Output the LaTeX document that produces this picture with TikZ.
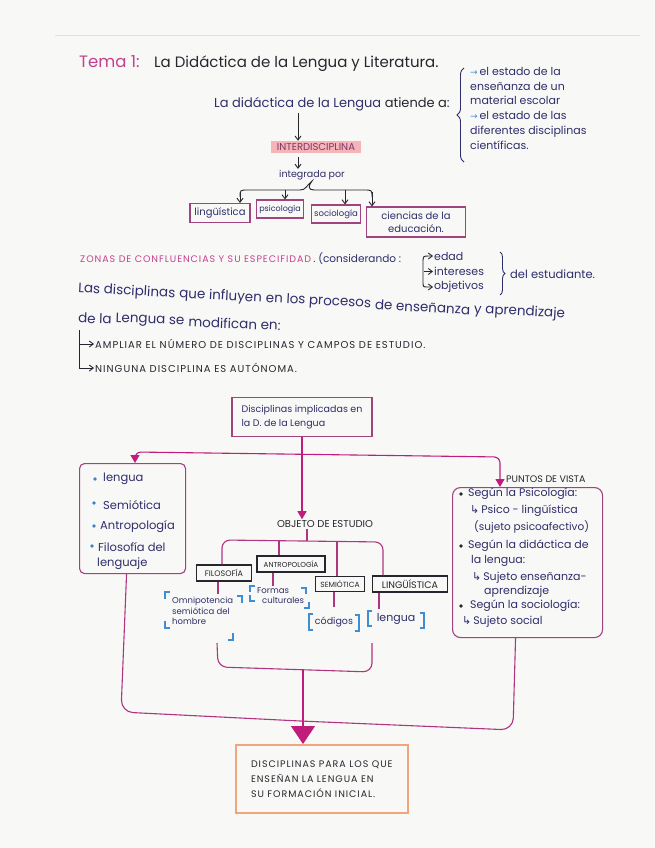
\documentclass[tikz,border=0pt]{standalone}
\usepackage{fontspec}
\setmainfont{Poppins}
\newfontfamily\sym{DejaVu Sans}
\newfontfamily\capsf[LetterSpace=10]{Poppins}
\usetikzlibrary{arrows.meta,decorations.pathreplacing,calc}
\definecolor{navy}{HTML}{2F2E6B}
\definecolor{ink}{HTML}{26262E}
\definecolor{titlepink}{HTML}{C4418E}
\definecolor{magline}{HTML}{B0347F}
\definecolor{boxpurple}{HTML}{A1437E}
\definecolor{brblue}{HTML}{3F8DD3}
\definecolor{bulblue}{HTML}{3F83C6}
\definecolor{orangeb}{HTML}{F2A57A}
\definecolor{hl}{HTML}{F5B5B8}
\definecolor{tipmag}{HTML}{C01C7C}
\definecolor{arrowblue}{HTML}{3B8FD8}
\definecolor{paper}{HTML}{F8F8F6}
\newcommand{\arr}{{\color{arrowblue}\sym\fontsize{9}{9}\selectfont →}\,}
\newcommand{\hook}{{\sym ↳}\,}
\tikzset{
  fs/.style={font=\fontsize{#1}{#1}\selectfont},
  cs/.style={font=\capsf\fontsize{#1}{#1}\selectfont},
  txt/.style={inner sep=1pt, text=navy},
  lt/.style={txt, anchor=west},
  seg/.style={text=navy, inner sep=0pt, anchor=west, rotate=-3, fs=13.5},
  pbox/.style={draw=boxpurple, line width=1.1pt, text=navy, inner xsep=3pt, inner ysep=2pt},
  kbox/.style={draw=ink, line width=1.4pt, text=ink, inner xsep=3pt, inner ysep=2pt},
  mline/.style={draw=magline, line width=1.1pt},
  bline/.style={draw=ink, line width=0.9pt},
  brk/.style={draw=brblue, line width=1.1pt},
  vtip/.style={-{Straight Barb[length=4pt,width=6pt]}},
  ttip/.style={-{Triangle[width=9pt,length=8pt]}, tipmag},
}
\begin{document}
\begin{tikzpicture}[x=1pt,y=-1pt]
\useasboundingbox (0,0) rectangle (655,848);
\fill[paper] (0,0) rectangle (655,848);
\draw[black!12, line width=0.6pt] (55,35) -- (640,35);

% ---------- title ----------
\node[anchor=west, inner sep=1pt, text=titlepink, fs=16.5] (tema) at (78,62) {Tema 1:};
\node[anchor=west, inner sep=1pt, text=ink, fs=15] (titulo) at (153,64) {La Didáctica de la Lengua y Literatura.};

\node[lt, fs=13] (atiende) at (213,104) {La didáctica de la Lengua {\color{ink}atiende a}:};
\draw[navy, line width=0.9pt, decorate, decoration={brace, amplitude=7pt}] (464,162) -- (464,68);
\node[anchor=north west, inner sep=0pt, text=navy, align=left, font=\fontsize{11}{14.8}\selectfont] (estado) at (470,67)
  {\arr el estado de la\\enseñanza de un\\material escolar\\\arr el estado de las\\diferentes disciplinas\\científicas.};

\node[fill=hl, text=boxpurple!80!black, fs=10, inner xsep=6pt, inner ysep=2.5pt] (interd) at (316,147) {INTERDISCIPLINA};
\coordinate (a1) at (298,113);
\draw[bline, vtip] (a1) -- (a1 |- interd.north);
\node[txt, fs=9.5] (integ) at (312,175) {integrada por};
\coordinate (a2) at (298,157);
\draw[bline, vtip] (a2) -- (a2 |- integ.north);

% ---------- four disciplines ----------
\node[pbox, fs=10, minimum width=60pt, minimum height=19pt] (lin) at (220,213) {lingüística};
\node[pbox, fs=8, minimum width=46pt, minimum height=18pt] (psi) at (280,209) {psicología};
\node[pbox, fs=8.5, minimum width=49pt, minimum height=18pt] (soc) at (336,214) {sociología};
\node[pbox, align=center, font=\fontsize{10}{13}\selectfont, minimum width=99pt, minimum height=30pt] (cie) at (416,222) {ciencias de la\\educación.};
\draw[bline] (240,197) .. controls (240,190) .. (248,190) -- (300,190) .. controls (306,190) and (306,186) .. (integ.south)
             .. controls (308,186) and (308,190) .. (314,190) -- (364,190) .. controls (372,190) .. (372,197);
\coordinate (b1) at (240,192);
\coordinate (b2) at (285,190);
\coordinate (b3) at (345,190);
\coordinate (b4) at (372,192);
\draw[bline, vtip] (b1) -- (b1 |- lin.north);
\draw[bline, vtip] (b2) -- (b2 |- psi.north);
\draw[bline, vtip] (b3) -- (b3 |- soc.north);
\draw[bline, vtip] (b4) -- (b4 |- cie.north);

% ---------- zonas ----------
\node[anchor=west, inner sep=0pt, text=titlepink, cs=9.5] (zonas) at (80,259) {ZONAS DE CONFLUENCIAS Y SU ESPECIFIDAD};
\node[lt, fs=10.5, inner sep=0pt] (consid) at (zonas.east) {\,.\ (considerando :};
\node[lt, fs=11] (edad) at (433,256) {edad};
\node[lt, fs=11] (inter) at (433,271.5) {intereses};
\node[lt, fs=11] (objv) at (433,287) {objetivos};
\draw[bline, vtip] (423,263) .. controls (423,256) .. (429,256) -- (edad.west);
\draw[bline, vtip] (424,271.5) -- (inter.west);
\draw[bline, vtip] (423,263) -- (423,282) .. controls (423,287) .. (428,287) -- (objv.west);
\draw[navy, line width=0.9pt, decorate, decoration={brace, amplitude=5pt}] (500,252) -- (500,295);
\node[lt, fs=11.5] (estud) at (509,274) {del estudiante.};

\node[seg] (las1) at (78,289) {Las disciplinas};
\node[seg] (las2) at (las1.east) {\ que influyen};
\node[seg] (las3) at (las2.east) {\ en los procesos};
\node[seg] (las4) at (las3.east) {\ de enseñanza};
\node[seg] (las5) at (las4.east) {\ y aprendizaje};
\node[seg, rotate=1] (dela1) at (78,318) {de la};
\node[seg, rotate=1] (dela2) at (dela1.east) {\ Lengua se};
\node[seg, rotate=1] (dela3) at (dela2.east) {\ modifican en:};

\node[anchor=west, inner sep=1pt, text=ink, cs=10] (amp) at (94,344) {AMPLIAR EL NÚMERO DE DISCIPLINAS Y CAMPOS DE ESTUDIO.};
\node[anchor=west, inner sep=1pt, text=ink, cs=10] (nin) at (94,368) {NINGUNA DISCIPLINA ES AUTÓNOMA.};
\draw[bline, vtip] (79,330) -- (79,344) -- (amp.west);
\draw[bline, vtip] (79,344) -- (79,368) -- (nin.west);

% ---------- lower diagram ----------
\node[pbox, align=left, font=\fontsize{9.5}{14}\selectfont, minimum width=140pt, minimum height=39pt] (disc) at (302,417)
  {Disciplinas implicadas en\\la D. de la Lengua};

\node[inner sep=1pt, text=ink, fs=10] (objeto) at (325,524) {OBJETO DE ESTUDIO};
\draw[mline, ttip] (disc.south) -- (objeto.north -| disc.south);

% left box
\node[draw=boxpurple, line width=1.1pt, rounded corners=5pt, minimum width=106pt, minimum height=110pt, anchor=north west] (lb) at (79,463) {};
\fill[bulblue] (95,479) circle (1.9);
\fill[bulblue] (94,503) circle (1.9);
\fill[bulblue] (94,526) circle (1.9);
\fill[bulblue] (92,546) circle (1.9);
\node[lt, fs=11.5] (l1) at (102,479) {lengua};
\node[lt, fs=11.5] (l2) at (102,505) {Semiótica};
\node[lt, fs=11.5] (l3) at (99,527) {Antropología};
\node[lt, fs=11.5] (l4) at (97,547) {Filosofía del};
\node[lt, fs=11.5] (l5) at (96,564) {lenguaje};

% right box
\node[draw=boxpurple, line width=1.1pt, rounded corners=8pt, minimum width=150pt, minimum height=150pt, anchor=north west] (pv) at (452,487) {};
\node[anchor=west, inner sep=1pt, text=ink, fs=9.5] (ptos) at (505,479) {PUNTOS DE VISTA};
\fill[ink] (461,494) circle (1.8);
\fill[ink] (461,546) circle (1.8);
\fill[ink] (461,606) circle (1.8);
\node[lt, fs=11] (r1) at (467,494) {Según la Psicología:};
\node[lt, fs=11] (r2) at (469,511) {\hook Psico - lingüística};
\node[lt, fs=10.5] (r3) at (473,527) {(sujeto psicoafectivo)};
\node[lt, fs=11] (r4) at (467,546) {Según la didáctica de};
\node[lt, fs=11] (r5) at (470,561) {la lengua:};
\node[lt, fs=11] (r6) at (471,578) {\hook Sujeto enseñanza-};
\node[lt, fs=11] (r7) at (483,592) {aprendizaje};
\node[lt, fs=11] (r8) at (469,606) {Según la sociología:};
\node[lt, fs=11] (r9) at (461,622) {\hook Sujeto social};

% branches to both boxes
\coordinate (h1) at (135,452);
\coordinate (h2) at (500,457);
\draw[mline, rounded corners=6pt, {Triangle[width=9pt,length=8pt]}-{Triangle[width=9pt,length=8pt]}, tipmag] (h1 |- lb.north) -- (h1) -- (h2) -- (h2 |- pv.north);

% objeto tree
\node[kbox, fs=8, minimum width=55pt, minimum height=16pt] (fil) at (224,573) {FILOSOFÍA};
\node[kbox, fs=7.2, minimum width=68pt, minimum height=16pt] (antro) at (291,564) {ANTROPOLOGÍA};
\node[kbox, fs=7.5, minimum width=49pt, minimum height=15pt] (sem) at (340,584) {SEMIÓTICA};
\node[kbox, fs=9.5, minimum width=75pt, minimum height=16pt] (ling) at (410,584) {LINGÜÍSTICA};
\coordinate (tl) at (222,540);
\coordinate (tr) at (383,542);
\coordinate (t0) at (307,541);
\coordinate (d1) at (279,541);
\coordinate (d2) at (337,541.5);
\draw[mline, rounded corners=8pt] (tl |- fil.north) -- (tl) -- (tr) -- (tr |- ling.north);
\draw[mline] (objeto.south -| t0) -- (t0);
\draw[mline] (d1) -- (d1 |- antro.north);
\draw[mline] (d2) -- (d2 |- sem.north);
\draw[mline] ([xshift=-6pt]fil.south) -- ++(0,12);
\draw[mline] ([xshift=-18pt]antro.south) -- ++(0,13);
\draw[mline] ([xshift=-6pt]sem.south) -- ++(0,15);
\draw[mline] ([xshift=-31pt]ling.south) -- ++(0,16);

% blue bracketed notes
\node[anchor=north west, inner sep=0pt, text=navy, align=left, font=\fontsize{8.5}{10.5}\selectfont] (omni) at (172,597) {Omnipotencia\\semiótica del\\hombre};
\draw[brk] (165,599) -- (165,592) -- (170,592);
\draw[brk] (237,596) -- (242,596) -- (242,603);
\draw[brk] (165,621) -- (165,628) -- (170,628);
\draw[brk] (233,633) -- (233,640) -- (228,640);
\node[anchor=north west, inner sep=0pt, text=navy, align=left, font=\fontsize{8.5}{10.5}\selectfont] (formas) at (257,587) {Formas\\\hspace*{5pt}culturales};
\draw[brk] (250,592) -- (250,586) -- (255,586);
\draw[brk] (301,588) -- (306,588) -- (306,594);
\draw[brk] (250,595) -- (250,601) -- (255,601);
\draw[brk] (309,602) -- (309,608) -- (304,608);
\node[txt, fs=9.5] (cod) at (334,622) {códigos};
\draw[brk] (313,614) -- (309,614) -- (309,630) -- (313,630);
\draw[brk] (355,615) -- (359,615) -- (359,631) -- (355,631);
\node[txt, fs=11] (len) at (396,619) {lengua};
\draw[brk] (372,611) -- (368,611) -- (368,626) -- (372,626);
\draw[brk] (420,613) -- (424,613) -- (424,628) -- (420,628);

% bottom brace and collection
\draw[mline, rounded corners=9pt] (217,643) -- (218,667) -- (372,672) -- (372,643);
\node[draw=orangeb, line width=1.6pt, text=ink, align=left, font=\capsf\fontsize{9.5}{15}\selectfont, minimum width=172pt, minimum height=68pt, anchor=north west] (bb) at (235,744)
  {DISCIPLINAS PARA LOS QUE\\ENSEÑAN LA LENGUA EN\\SU FORMACIÓN INICIAL.};
\coordinate (m1) at (303,670);
\draw[mline, -{Triangle[width=24pt,length=18pt]}, tipmag] (m1) -- (m1 |- bb.north);
\draw[mline, rounded corners=12pt] ([xshift=-6pt]lb.south) -- (121,712) -- (300,721) -- (513,730) -- ([xshift=-12pt]pv.south);
\end{tikzpicture}
\end{document}
